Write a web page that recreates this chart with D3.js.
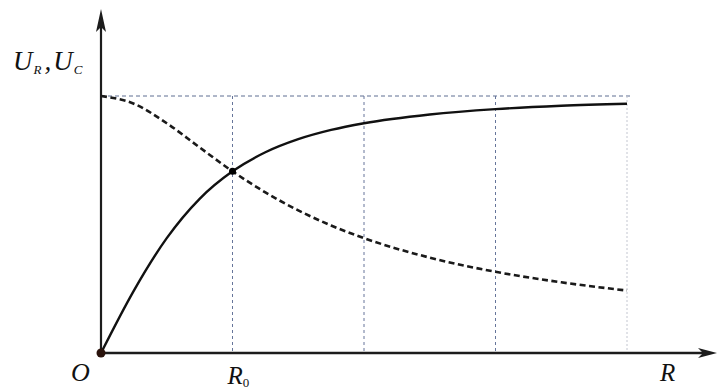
<!DOCTYPE html>
<html>
<head>
<meta charset="utf-8">
<script src="https://cdn.jsdelivr.net/npm/d3@7"></script>
<style>
  body { margin: 0; background: #fff; }
  svg { display: block; }
  text { font-family: "Liberation Serif", "DejaVu Serif", serif; font-style: italic; fill: #111; }
</style>
</head>
<body>
<div id="chart"></div>
<script>
const width = 721;
const height = 392;

// R in units of R0, voltages relative to the source voltage
const rValues = [0, 0.25, 0.5, 0.75, 1, 1.25, 1.5, 1.75, 2, 2.5, 3, 3.5, 4];
const uR = [0, 0.243, 0.447, 0.600, 0.707, 0.781, 0.832, 0.868, 0.894, 0.928, 0.949, 0.962, 0.970];
const uC = [1, 0.970, 0.894, 0.800, 0.707, 0.625, 0.555, 0.496, 0.447, 0.371, 0.316, 0.275, 0.243];
const gridR = [1, 2, 3, 4];
const crossing = {r: 1, u: 0.707};

const svg = d3.select("#chart").append("svg")
    .attr("width", width)
    .attr("height", height);

const x = d3.scaleLinear().domain([0, 4]).range([101, 627]);
const y = d3.scaleLinear().domain([0, 1]).range([353, 96]);

// guide lines
svg.append("line")
    .attr("x1", x(0)).attr("x2", x(4) + 3)
    .attr("y1", y(1)).attr("y2", y(1))
    .attr("stroke", "#5f6f92")
    .attr("stroke-width", 1)
    .attr("stroke-dasharray", "4,3");

svg.selectAll(".grid")
    .data(gridR)
    .enter()
    .append("line")
    .attr("class", "grid")
    .attr("x1", d => x(d)).attr("x2", d => x(d))
    .attr("y1", y(1)).attr("y2", y(0))
    .attr("stroke", d => d === 4 ? "#c3c6d0" : "#66759a")
    .attr("stroke-width", 1)
    .attr("stroke-dasharray", d => d === 4 ? "2,2" : "3,3");

// axes
const axisColor = "#1c1c1c";

svg.append("line")
    .attr("x1", x(0)).attr("y1", y(0))
    .attr("x2", 704).attr("y2", y(0))
    .attr("stroke", axisColor).attr("stroke-width", 2.6);
svg.append("path")
    .attr("d", `M717,${y(0)} L698,${y(0) - 5} L703,${y(0)} L698,${y(0) + 5} Z`)
    .attr("fill", axisColor);

svg.append("line")
    .attr("x1", x(0)).attr("y1", y(0))
    .attr("x2", x(0)).attr("y2", 24)
    .attr("stroke", axisColor).attr("stroke-width", 2.2);
svg.append("path")
    .attr("d", `M${x(0)},9 L${x(0) - 5},32 L${x(0)},27 L${x(0) + 5},32 Z`)
    .attr("fill", axisColor);

// curves
const line = d3.line()
    .x(d => x(d[0]))
    .y(d => y(d[1]))
    .curve(d3.curveMonotoneX);

svg.append("path")
    .datum(rValues.map((r, i) => [r, uC[i]]))
    .attr("d", line)
    .attr("fill", "none")
    .attr("stroke", "#1a1a1a")
    .attr("stroke-width", 2.6)
    .attr("stroke-dasharray", "6,3.5");

svg.append("path")
    .datum(rValues.map((r, i) => [r, uR[i]]))
    .attr("d", line)
    .attr("fill", "none")
    .attr("stroke", "#111")
    .attr("stroke-width", 2.4);

svg.append("circle")
    .attr("cx", x(crossing.r)).attr("cy", y(crossing.u))
    .attr("r", 3.5).attr("fill", "#000");

svg.append("circle")
    .attr("cx", x(0)).attr("cy", y(0))
    .attr("r", 4.5).attr("fill", "#2a130c");

// labels
const yLabel = svg.append("text")
    .attr("x", 13).attr("y", 70)
    .attr("font-size", 27);
yLabel.append("tspan").text("U");
yLabel.append("tspan").attr("font-size", 13).attr("dy", 4).attr("dx", 1).text("R");
yLabel.append("tspan").attr("dy", -4).attr("dx", 3).text(",");
yLabel.append("tspan").attr("dx", 2).text("U");
yLabel.append("tspan").attr("font-size", 13).attr("dy", 4).attr("dx", 1).text("C");

svg.append("text")
    .attr("x", 71).attr("y", 381)
    .attr("font-size", 26)
    .text("O");

const r0 = svg.append("text")
    .attr("x", x(1) - 5).attr("y", 384)
    .attr("font-size", 25);
r0.append("tspan").text("R");
r0.append("tspan").attr("font-size", 13).attr("dy", 3).attr("font-style", "normal").text("0");

svg.append("text")
    .attr("x", 660).attr("y", 381)
    .attr("font-size", 25)
    .text("R");
</script>
</body>
</html>
